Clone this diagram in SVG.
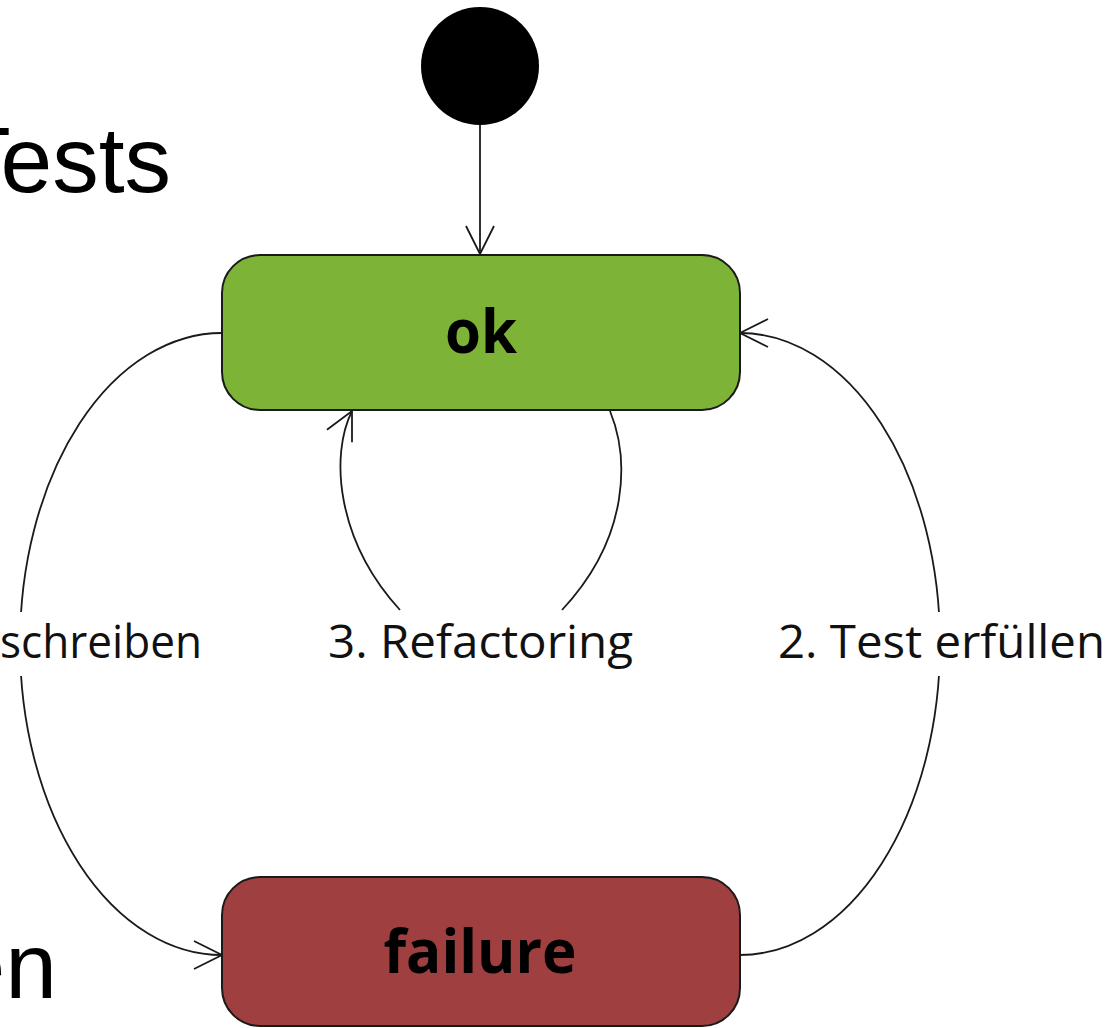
<svg xmlns="http://www.w3.org/2000/svg" width="1118" height="1028" viewBox="0 0 1118 1028">
  <style>
    .node { stroke: #1a1a1a; stroke-width: 2; }
    .conn { fill: none; stroke: #1a1a1a; stroke-width: 1.8; }
    .lbl { font-family: "Open Sans", "Liberation Sans", sans-serif; font-size: 46px; fill: #111; }
    .title { font-family: "Open Sans", "Liberation Sans", sans-serif; font-weight: bold; font-size: 60px; fill: #000; text-anchor: middle; }
    .big { font-family: "Liberation Sans", Arial, sans-serif; font-size: 93px; fill: #000; text-anchor: end; }
  </style>
  <defs>
    <marker id="arr" markerUnits="userSpaceOnUse" viewBox="-32 -16 34 32" refX="0" refY="0" markerWidth="34" markerHeight="32" orient="auto" overflow="visible">
      <path d="M-28,-14 L0,0 L-28,14" fill="none" stroke="#1a1a1a" stroke-width="1.8"/>
    </marker>
  </defs>
  <rect width="1118" height="1028" fill="#fff"/>

  <g id="background-text">
    <text class="big" x="171" y="192">Tests</text>
    <text class="big" x="57" y="998">en</text>
  </g>

  <g id="connectors">
    <line class="conn" x1="480" y1="125" x2="480" y2="254" marker-end="url(#arr)"/>
    <path class="conn" d="M222,333 A202,311 0 0 0 222,955" marker-end="url(#arr)"/>
    <path class="conn" d="M740,955 A200,311 0 0 0 740,333" marker-end="url(#arr)"/>
    <path class="conn" d="M610,411 C628,455 632,535 562,610"/>
    <path class="conn" d="M400,610 C336,540 330,455 352,411" marker-end="url(#arr)"/>
    <rect x="0" y="612" width="206" height="64" fill="#fff"/>
    <rect x="770" y="612" width="348" height="64" fill="#fff"/>
    <text class="lbl" x="0" y="658" textLength="202" lengthAdjust="spacingAndGlyphs">schreiben</text>
    <text class="lbl" x="328" y="658" textLength="305" lengthAdjust="spacingAndGlyphs">3. Refactoring</text>
    <text class="lbl" x="778" y="658" textLength="327" lengthAdjust="spacingAndGlyphs">2. Test erfüllen</text>
  </g>

  <g id="start">
    <circle cx="480" cy="66" r="59" fill="#000"/>
  </g>

  <g id="ok">
    <rect class="node" x="222" y="255" width="518" height="155" rx="38" fill="#7db337"/>
    <text class="title" x="481" y="353" textLength="72" lengthAdjust="spacingAndGlyphs">ok</text>
  </g>

  <g id="failure">
    <rect class="node" x="222" y="877" width="518" height="149" rx="38" fill="#9f3f40"/>
    <text class="title" x="480" y="973" textLength="193" lengthAdjust="spacingAndGlyphs">failure</text>
  </g>
</svg>
